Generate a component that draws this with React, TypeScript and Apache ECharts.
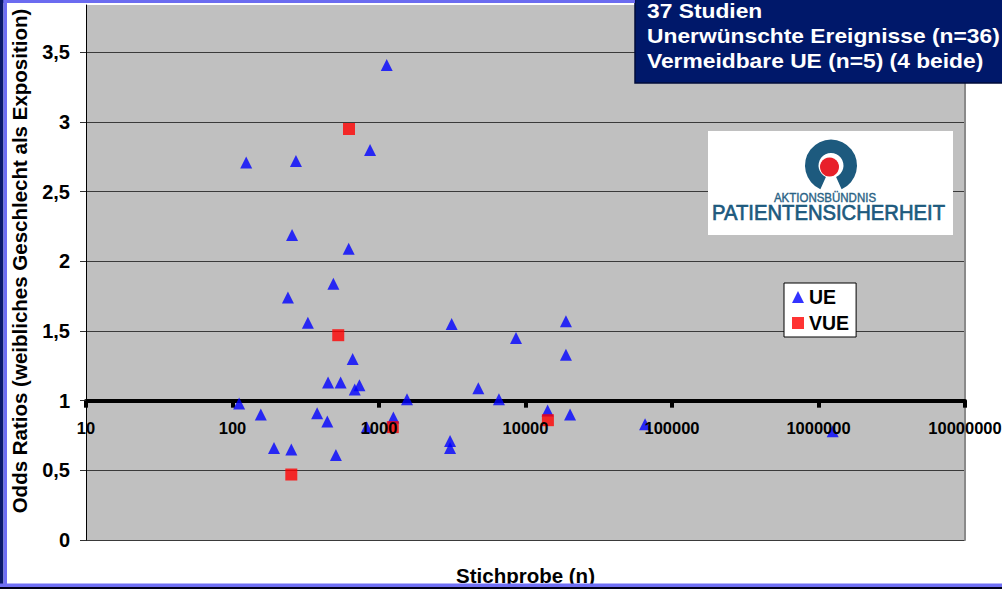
import React, { useEffect, useRef } from "react";
import * as echarts from "echarts";

// Studies: sample size (n) and odds ratio (female sex as exposure)
const ueN = [1129, 869, 124, 271, 255, 621, 488, 239, 327, 661, 449, 547, 683, 735, 1553, 111, 156, 378, 444, 1253, 824, 192, 252, 508, 3133, 18880, 8610, 18880, 4763, 6590, 14160, 20140, 3055, 3055, 65500, 1250000];
const ueOR = [3.41, 2.8, 2.71, 2.72, 2.19, 2.09, 1.84, 1.74, 1.56, 1.3, 1.13, 1.13, 1.08, 1.11, 1.01, 0.98, 0.9, 0.91, 0.85, 0.88, 0.81, 0.66, 0.65, 0.61, 1.55, 1.57, 1.45, 1.33, 1.09, 1.01, 0.93, 0.9, 0.71, 0.66, 0.83, 0.78];
const vueN = [624, 527, 252, 1242, 14220];
const vueOR = [2.95, 1.47, 0.47, 0.81, 0.86];

const seriesNames = ["UE", "VUE"];
const xMin = 10;
const xMax = 10000000;
const yMin = 0;
const yMax = 3.84;
const yStep = 0.5;
const titleLines = ["37 Studien", "Unerwünschte Ereignisse (n=36)", "Vermeidbare UE (n=5) (4 beide)"];
const yName = "Odds Ratios (weibliches Geschlecht als Exposition)";
const xName = "Stichprobe (n)";

const FONT = "'Liberation Sans', Arial, Helvetica, sans-serif";

export default function App() {
  const ref = useRef<HTMLDivElement>(null);
  useEffect(() => {
    if (!ref.current) return;
    const chart = echarts.init(ref.current, null, { renderer: "svg" });
    const ueData = ueN.map((n, i) => [n, ueOR[i]]);
    const vueData = vueN.map((n, i) => [n, vueOR[i]]);
    const gridH = 589 - 5 - 49;
    const oneOffset = -(gridH * (1 - yMin)) / (yMax - yMin);
    const xLabel = (v: number) => String(Math.round(v));
    const yLabel = (v: number) => {
      const r = Math.round(v / yStep);
      if (Math.abs(v / yStep - r) > 1e-6) return "";
      return String(r * yStep).replace(".", ",");
    };
    const textCommon = { fontFamily: FONT, fontWeight: "bold" as const };
    chart.setOption({
      animation: false,
      backgroundColor: "#ffffff",
      grid: {
        left: 86,
        right: 37,
        top: 5,
        bottom: 49,
        show: true,
        backgroundColor: "#c0c0c0",
        borderWidth: 0,
        outerBoundsMode: "none",
      },
      legend: {
        data: [
          { name: seriesNames[0], icon: "triangle" },
          { name: seriesNames[1], icon: "rect" },
        ],
        orient: "vertical",
        left: 784,
        top: 283,
        padding: [4, 7, 4, 8],
        itemGap: 6,
        itemWidth: 12,
        itemHeight: 12,
        backgroundColor: "#ffffff",
        borderColor: "#000000",
        borderWidth: 1,
        borderRadius: 0,
        textStyle: { ...textCommon, fontSize: 19.5, color: "#000" },
      },
      xAxis: [
        {
          type: "log",
          logBase: 10,
          min: xMin,
          max: xMax,
          position: "bottom",
          offset: oneOffset,
          axisLine: { show: true, onZero: false, lineStyle: { color: "#000", width: 4 } },
          axisTick: { show: true, inside: false, length: 7, lineStyle: { color: "#000", width: 4 } },
          axisLabel: { show: false },
          splitLine: { show: false },
          minorTick: { show: false },
        },
        {
          type: "log",
          logBase: 10,
          min: xMin,
          max: xMax,
          position: "bottom",
          offset: oneOffset,
          z: 5,
          axisLine: { show: false, onZero: false },
          axisTick: { show: false },
          axisLabel: { ...textCommon, fontSize: 16.5, color: "#000", margin: 19, formatter: xLabel },
          splitLine: { show: false },
        },
      ],
      yAxis: [
        {
          type: "value",
          min: yMin,
          max: yMax,
          interval: yStep,
          position: "left",
          axisLine: { show: true, lineStyle: { color: "#000", width: 1 } },
          axisTick: { show: true, inside: false, length: 6, lineStyle: { color: "#333" } },
          axisLabel: { ...textCommon, fontSize: 20, color: "#000", margin: 16, formatter: yLabel, showMaxLabel: false },
          splitLine: { show: true, showMaxLine: false, lineStyle: { color: "#3a3a3a", width: 1 } },
        },
        {
          type: "value",
          min: yMin,
          max: yMax,
          interval: yStep,
          position: "right",
          axisLine: { show: true, lineStyle: { color: "#8a8a8a", width: 2 } },
          axisTick: { show: false },
          axisLabel: { show: false },
          splitLine: { show: false },
        },
      ],
      series: [
        {
          name: seriesNames[0],
          type: "scatter",
          xAxisIndex: 0,
          yAxisIndex: 0,
          symbol: "triangle",
          symbolSize: 12,
          itemStyle: { color: "#0000ff" },
          data: ueData,
          z: 3,
        },
        {
          name: seriesNames[1],
          type: "scatter",
          xAxisIndex: 0,
          yAxisIndex: 0,
          symbol: "rect",
          symbolSize: 12,
          itemStyle: { color: "#ff0000" },
          data: vueData,
          z: 4,
        },
      ],
      graphic: [
        // frame
        { type: "rect", z: 100, shape: { x: 0, y: 0, width: 635, height: 3 }, style: { fill: "#6b6bf0" } },
        { type: "rect", z: 100, shape: { x: 0, y: 0, width: 3.5, height: 589 }, style: { fill: "#0b1a6b" } },
        { type: "rect", z: 100, shape: { x: 3.5, y: 0, width: 3.5, height: 589 }, style: { fill: "#6e6ef5" } },
        { type: "rect", z: 100, shape: { x: 0, y: 583.5, width: 1002, height: 3.5 }, style: { fill: "#7070f5" } },
        { type: "rect", z: 100, shape: { x: 0, y: 587, width: 1002, height: 2 }, style: { fill: "#000018" } },
        // axis titles
        {
          type: "text",
          z: 50,
          x: 19,
          y: 261,
          rotation: Math.PI / 2,
          style: { text: yName, ...textCommon, fontSize: 20.5, fill: "#000", align: "center", verticalAlign: "middle" },
        },
        {
          type: "text",
          z: 50,
          x: 525.5,
          y: 575,
          style: { text: xName, ...textCommon, fontSize: 20.5, fill: "#000", align: "center", verticalAlign: "middle" },
        },
        // title box
        { type: "rect", z: 60, shape: { x: 635, y: -1, width: 368, height: 84 }, style: { fill: "#00186a", stroke: "#000b3a", lineWidth: 1.5 } },
        ...titleLines.map((t, i) => ({
          type: "text",
          z: 61,
          x: 647,
          y: 11 + i * 25.2,
          scaleX: 1.14,
          style: { text: t, ...textCommon, fontSize: 20, fill: "#ffffff", align: "left", verticalAlign: "middle" },
        })),
        // logo
        { type: "rect", z: 60, shape: { x: 708, y: 131, width: 245, height: 104 }, style: { fill: "#ffffff" } },
        {
          type: "sector",
          z: 61,
          shape: { cx: 831, cy: 165.5, r: 26, r0: 12.5, startAngle: Math.PI / 2 + 0.42, endAngle: Math.PI / 2 - 0.42 + Math.PI * 2, clockwise: true },
          style: { fill: "#1d5a7e" },
        },
        { type: "circle", z: 62, shape: { cx: 829.5, cy: 167, r: 9.5 }, style: { fill: "#e8202a" } },
        {
          type: "text",
          z: 61,
          x: 825,
          y: 197.5,
          scaleX: 0.92,
          style: { text: "AKTIONSBÜNDNIS", fontFamily: FONT, fontSize: 12.5, fill: "#2a6385", stroke: "#2a6385", lineWidth: 0.4, align: "center", verticalAlign: "middle" },
        },
        {
          type: "text",
          z: 61,
          x: 828.5,
          y: 212.5,
          scaleX: 0.92,
          style: { text: "PATIENTENSICHERHEIT", fontFamily: FONT, fontSize: 22, fill: "#1d5a7e", stroke: "#1d5a7e", lineWidth: 0.7, align: "center", verticalAlign: "middle" },
        },
      ],
    });
    return () => chart.dispose();
  }, []);
  return (
    <div
      ref={ref}
      style={{ position: "fixed", left: 0, top: 0, width: 1002, height: 589, background: "#fff" }}
    />
  );
}
